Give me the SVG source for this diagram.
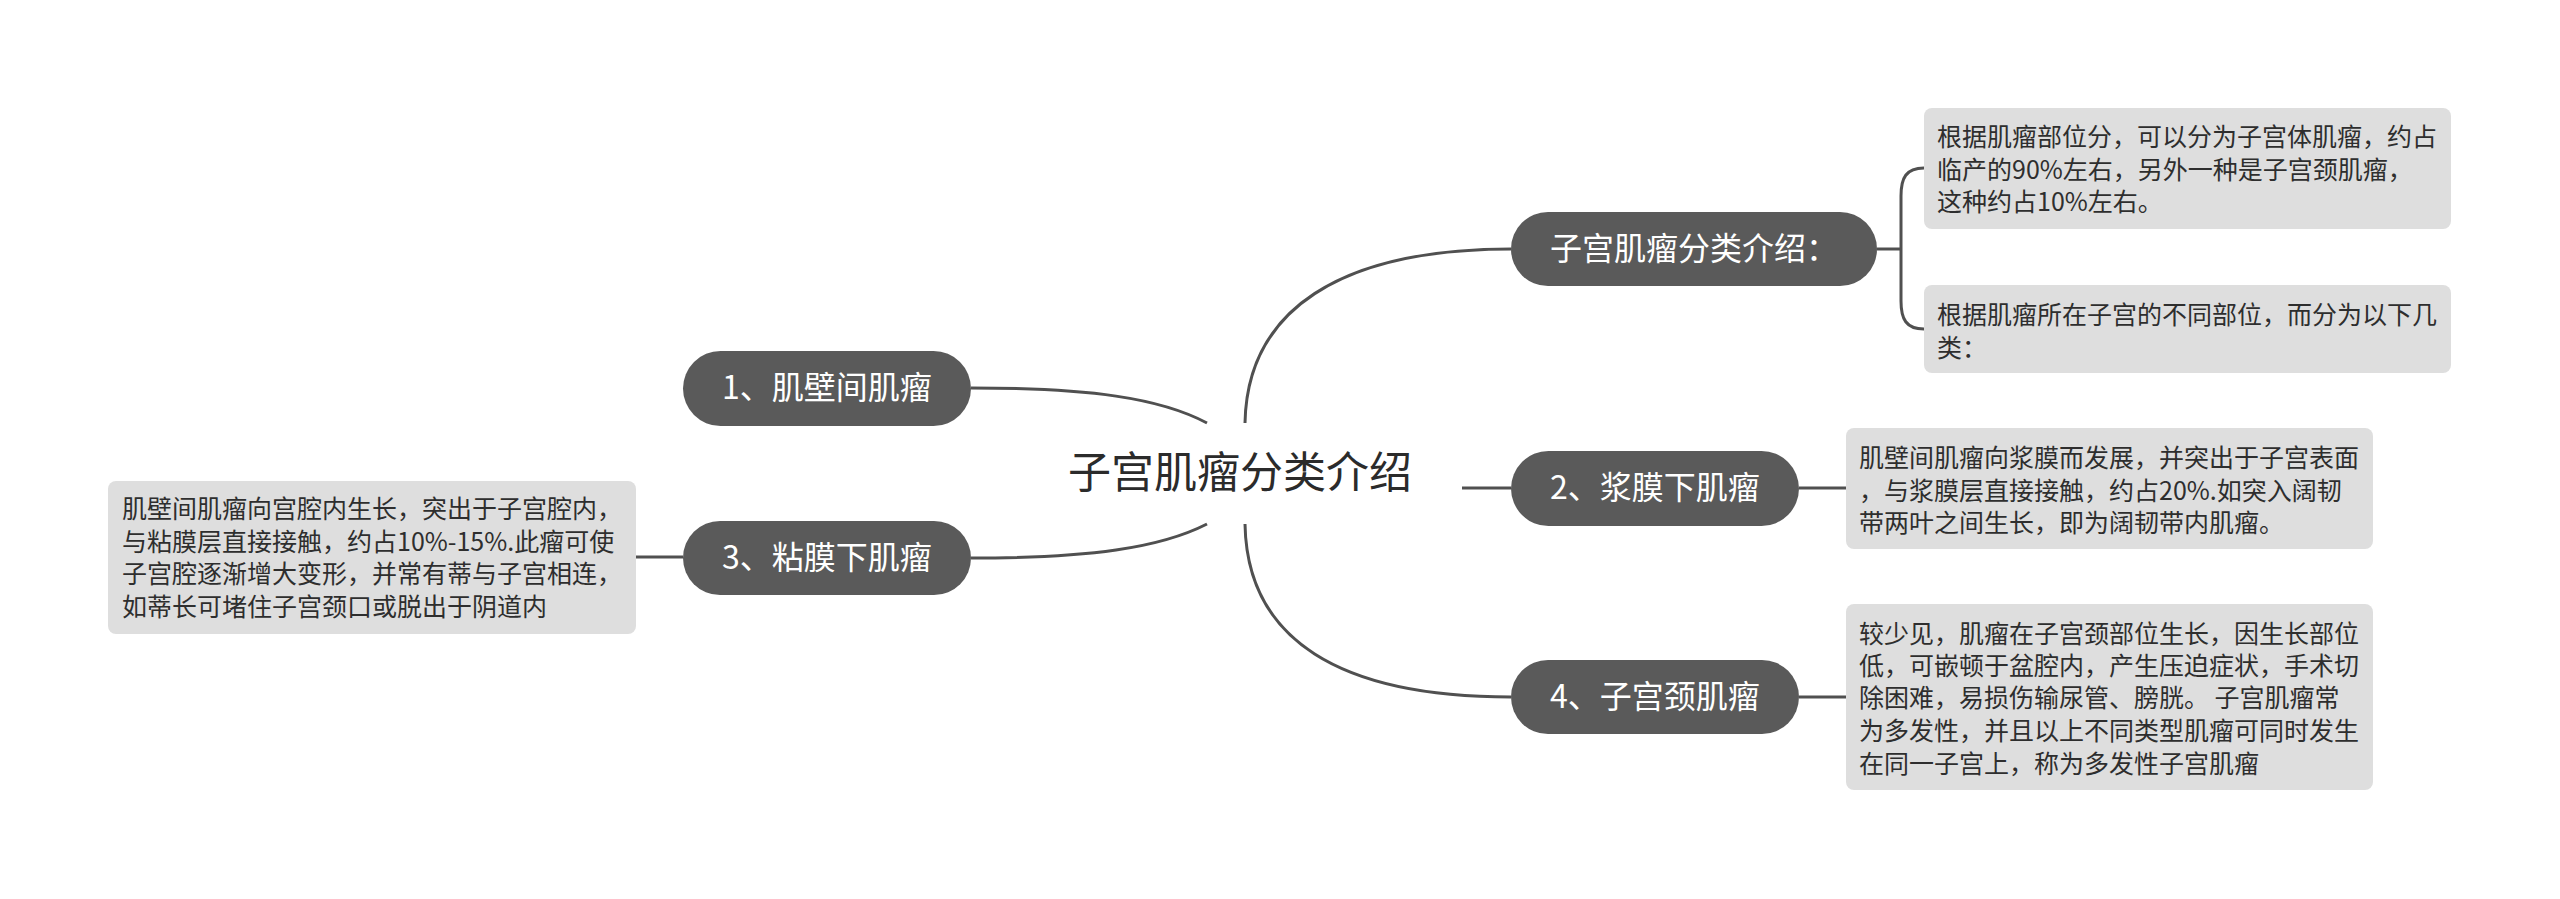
<svg xmlns="http://www.w3.org/2000/svg" width="2560" height="899" viewBox="0 0 2560 899">
<style>
.bg{fill:#ffffff}
.pill{fill:#5a5a5a}
.pt{fill:#ffffff;font-family:"Noto Sans CJK SC","Noto Sans",sans-serif;font-size:32px;text-anchor:middle}
.box{fill:#dedede}
.bt{fill:#2e2e2e;font-family:"Noto Sans CJK SC","Noto Sans",sans-serif;font-size:25px}
.ct{fill:#2b2b2b;font-family:"Noto Sans CJK SC","Noto Sans",sans-serif;font-size:43px;text-anchor:middle}
.ln{fill:none;stroke:#505050;stroke-width:3}
</style>
<rect class="bg" x="0" y="0" width="2560" height="899"/>
<g id="connectors">
<path class="ln" d="M1207 423 C1160 398 1090 388 971 388"/>
<path class="ln" d="M1207 524 C1160 548 1090 558 971 558"/>
<path class="ln" d="M1245 423 C1247 310 1340 249 1511 249"/>
<path class="ln" d="M1245 524 C1247 640 1340 697 1511 697"/>
<path class="ln" d="M1462 488 L1511 488"/>
<path class="ln" d="M1877 249 L1901 249"/>
<path class="ln" d="M1924 168 C1906 168 1901 178 1901 196 L1901 301 C1901 319 1906 329 1924 329"/>
<path class="ln" d="M1799 488 L1846 488"/>
<path class="ln" d="M1799 697 L1846 697"/>
<path class="ln" d="M683 557 L636 557"/>
</g>
<g id="root">
<text class="ct" x="1240" y="488">子宫肌瘤分类介绍</text>
</g>
<g id="n-intro">
<rect class="pill" x="1511" y="212" width="366" height="74" rx="37"/>
<text class="pt" x="1694" y="260">子宫肌瘤分类介绍：</text>
</g>
<g id="n-intro-a">
<rect class="box" x="1924" y="108" width="527" height="121" rx="8"/>
<text class="bt" x="1937" y="146">根据肌瘤部位分，可以分为子宫体肌瘤，约占</text>
<text class="bt" x="1937" y="179">临产的90%左右，另外一种是子宫颈肌瘤，</text>
<text class="bt" x="1937" y="211">这种约占10%左右。</text>
</g>
<g id="n-intro-b">
<rect class="box" x="1924" y="285" width="527" height="88" rx="8"/>
<text class="bt" x="1937" y="324">根据肌瘤所在子宫的不同部位，而分为以下几</text>
<text class="bt" x="1937" y="357">类：</text>
</g>
<g id="n-2">
<rect class="pill" x="1511" y="451" width="288" height="75" rx="37.5"/>
<text class="pt" x="1655" y="499">2、浆膜下肌瘤</text>
</g>
<g id="n-2-desc">
<rect class="box" x="1846" y="428" width="527" height="121" rx="8"/>
<text class="bt" x="1859" y="467">肌壁间肌瘤向浆膜而发展，并突出于子宫表面</text>
<text class="bt" x="1859" y="500">，与浆膜层直接接触，约占20%.如突入阔韧</text>
<text class="bt" x="1859" y="532">带两叶之间生长，即为阔韧带内肌瘤。</text>
</g>
<g id="n-4">
<rect class="pill" x="1511" y="660" width="288" height="74" rx="37"/>
<text class="pt" x="1655" y="708">4、子宫颈肌瘤</text>
</g>
<g id="n-4-desc">
<rect class="box" x="1846" y="604" width="527" height="186" rx="8"/>
<text class="bt" x="1859" y="643">较少见，肌瘤在子宫颈部位生长，因生长部位</text>
<text class="bt" x="1859" y="675">低，可嵌顿于盆腔内，产生压迫症状，手术切</text>
<text class="bt" x="1859" y="707">除困难，易损伤输尿管、膀胱。 子宫肌瘤常</text>
<text class="bt" x="1859" y="740">为多发性，并且以上不同类型肌瘤可同时发生</text>
<text class="bt" x="1859" y="773">在同一子宫上，称为多发性子宫肌瘤</text>
</g>
<g id="n-1">
<rect class="pill" x="683" y="351" width="288" height="75" rx="37.5"/>
<text class="pt" x="827" y="399">1、肌壁间肌瘤</text>
</g>
<g id="n-3">
<rect class="pill" x="683" y="521" width="288" height="74" rx="37"/>
<text class="pt" x="827" y="569">3、粘膜下肌瘤</text>
</g>
<g id="n-3-desc">
<rect class="box" x="108" y="481" width="528" height="153" rx="8"/>
<text class="bt" x="122" y="518">肌壁间肌瘤向宫腔内生长，突出于子宫腔内，</text>
<text class="bt" x="122" y="551">与粘膜层直接接触，约占10%-15%.此瘤可使</text>
<text class="bt" x="122" y="583">子宫腔逐渐增大变形，并常有蒂与子宫相连，</text>
<text class="bt" x="122" y="616">如蒂长可堵住子宫颈口或脱出于阴道内</text>
</g>
</svg>
